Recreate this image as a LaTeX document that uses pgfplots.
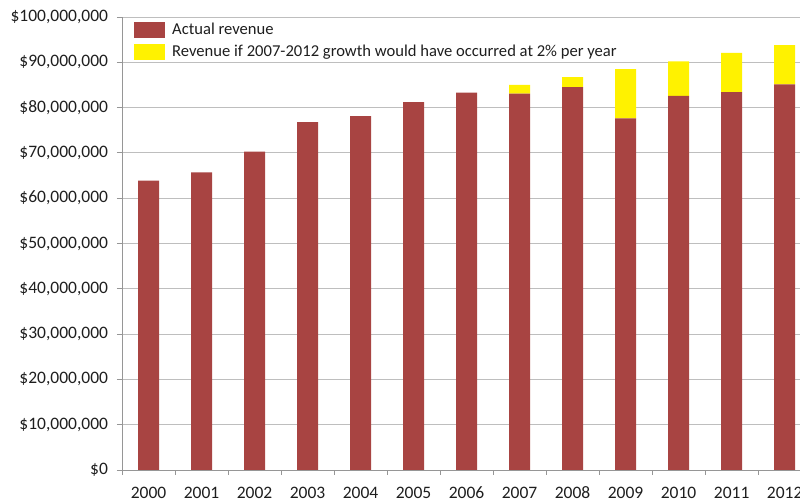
\documentclass[border=0pt]{standalone}
\usepackage{fontspec}
\setmainfont{Carlito}
\usepackage{pgfplots}
\pgfplotsset{compat=1.18}
\definecolor{barred}{RGB}{168,68,66}
\definecolor{gridgray}{RGB}{190,190,190}
\definecolor{axgray}{RGB}{150,150,150}
\definecolor{txt}{RGB}{30,30,30}
\begin{document}
\fontsize{17.5}{21}\selectfont
\begin{tikzpicture}
\begin{axis}[name=ax,
  scale only axis, width=678pt, height=453pt,
  xmin=-0.5, xmax=12.29, ymin=0, ymax=100000000,
  enlargelimits=false,
  ybar stacked, bar width=21pt,
  axis lines*=left,
  axis line style={axgray, line width=0.8pt},
  tick align=outside,
  major tick length=5pt, minor tick length=5pt,
  xtick={0,1,2,3,4,5,6,7,8,9,10,11,12},
  xticklabels={2000,2001,2002,2003,2004,2005,2006,2007,2008,2009,2010,2011,2012},
  minor xtick={-0.5,0.5,1.5,2.5,3.5,4.5,5.5,6.5,7.5,8.5,9.5,10.5,11.5},
  major x tick style={draw=none},
  minor x tick style={axgray, line width=0.8pt},
  y tick style={axgray, line width=0.8pt},
  ytick={0,10000000,20000000,30000000,40000000,50000000,60000000,70000000,80000000,90000000,100000000},
  yticklabels={{\$0},{\$10,000,000},{\$20,000,000},{\$30,000,000},{\$40,000,000},{\$50,000,000},{\$60,000,000},{\$70,000,000},{\$80,000,000},{\$90,000,000},{\$100,000,000}},
  scaled y ticks=false,
  ymajorgrids, grid style={gridgray, line width=0.8pt},
  ticklabel style={font=\fontsize{17.5}{21}\selectfont, text=txt},
  xticklabel style={yshift=-6pt},
  yticklabel style={xshift=-3pt},
  legend style={at={(rel axis cs:0,1)}, anchor=north west, xshift=12pt, yshift=-4pt,
    draw=none, fill=none, inner sep=0pt, row sep=4pt, column sep=5pt,
    font=\fontsize{16.6}{20}\selectfont, text=txt,
    cells={anchor=west}},
  legend image code/.code={\fill[#1] (0pt,-8pt) rectangle (31pt,8pt);},
]
\addplot[fill=barred, draw=none] coordinates {
(0,63900000) (1,65700000) (2,70300000) (3,76800000) (4,78100000) (5,81200000) (6,83300000)
(7,83100000) (8,84500000) (9,77600000) (10,82600000) (11,83400000) (12,85100000)};
\addlegendentry{Actual revenue}
\addplot[fill=yellow, draw=none] coordinates {
(0,0) (1,0) (2,0) (3,0) (4,0) (5,0) (6,0)
(7,1900000) (8,2200000) (9,10900000) (10,7600000) (11,8700000) (12,8700000)};
\addlegendentry{Revenue if 2007-2012 growth would have occurred at 2\% per year}
\end{axis}
\pgfresetboundingbox
\path ([shift={(-122pt,-32pt)}]ax.south west) rectangle ([yshift=17pt]ax.north east);
\end{tikzpicture}
\end{document}
